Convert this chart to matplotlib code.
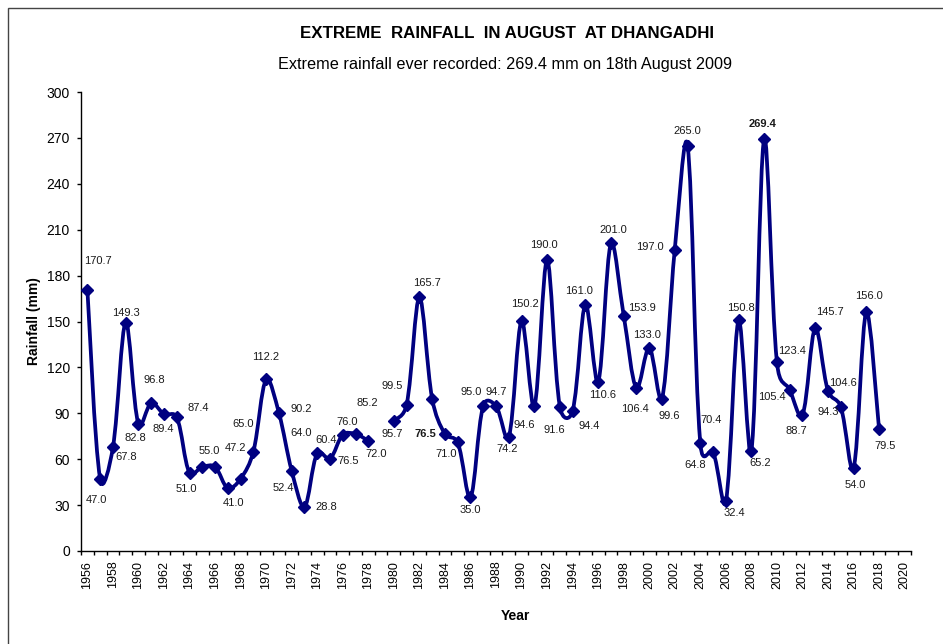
import numpy as np
import matplotlib
matplotlib.use("Agg")
import matplotlib.pyplot as plt
from matplotlib.path import Path
from matplotlib.patches import PathPatch, Rectangle

plt.rcParams['font.family'] = ['Liberation Sans', 'DejaVu Sans']

# data (1979 missing)
years_a = list(range(1956, 1979))
rain_a = [170.7, 47.0, 67.8, 149.3, 82.8, 96.8, 89.4, 87.4, 51.0, 55.0, 55.0, 41.0,
          47.2, 65.0, 112.2, 90.2, 52.4, 28.8, 64.0, 60.4, 76.0, 76.5, 72.0]
years_b = list(range(1980, 2019))
rain_b = [85.2, 95.7, 165.7, 99.5, 76.5, 71.0, 35.0, 95.0, 94.7, 74.2, 150.2, 94.6,
          190.0, 94.4, 91.6, 161.0, 110.6, 201.0, 153.9, 106.4, 133.0, 99.6, 197.0,
          265.0, 70.4, 64.8, 32.4, 150.8, 65.2, 269.4, 123.4, 105.4, 88.7, 145.7,
          104.6, 94.3, 54.0, 156.0, 79.5]
bold_years = [1984, 2009]
unlabeled_years = [1966]

# label offsets in pixels (right, down) from each point
offs_a = [(11, -29), (-3.5, 21), (13, 10), (0, -10), (-3.5, 14), (3, -23), (-1, 15),
          (21, -9), (-3, 16.5), (7, -16), (0, 0), (6, 15), (-5, -31), (-10, -28),
          (0, -22), (22, -4), (-8, 17), (22, 0), (-16, -20), (-4, -19), (4, -13),
          (-7, 27), (8, 13)]
offs_b = [(-27, -18), (-14, 29), (8, -14), (-40, -13), (-20, 0), (-12, 12), (0, 13),
          (-12, -14), (0, -14), (-2, 12), (3, -17), (-10, 19), (-3, -15), (29, 19),
          (-18, 19), (-6.5, -14), (4, 13.5), (2, -13.5), (18, -8), (-1.5, 21),
          (-2, -13), (7, 17), (-25, -3), (0, -15), (11, -23), (-18, 13), (9, 12),
          (2, -12.5), (9, 12), (-1.5, -15), (15, -11), (-18, 7), (-6, 16), (15, -16),
          (15, -8), (-13, 5), (2, 17), (3, -16), (6, 17)]

navy = '#000080'
# approx screen scale, used so the curve bends like Excel's smoothed line
px_per_year = 830 / 65
px_per_mm = 459 / 300


def smooth_path(xs, ys):
    pts = np.column_stack([xs, ys]).astype(float)
    scr = pts * [px_per_year, px_per_mm]
    n = len(pts)
    seg = np.hypot(*(np.diff(scr, axis=0).T))
    tang = []
    for i in range(n):
        a = pts[max(i - 1, 0)]
        b = pts[min(i + 1, n - 1)]
        tang.append(b - a)
    verts = [pts[0]]
    codes = [Path.MOVETO]
    for i in range(n - 1):
        d_prev = seg[i - 1] if i > 0 else seg[i]
        d_next = seg[i + 1] if i < n - 2 else seg[i]
        # halfway between plain catmull-rom and length-weighted tangents
        k1 = 0.5 * (seg[i] / (d_prev + seg[i]) / 3.0) + 0.5 / 6.0
        k2 = 0.5 * (seg[i] / (seg[i] + d_next) / 3.0) + 0.5 / 6.0
        c1 = pts[i] + tang[i] * k1
        c2 = pts[i + 1] - tang[i + 1] * k2
        verts += [c1, c2, pts[i + 1]]
        codes += [Path.CURVE4] * 3
    return Path(verts, codes)


fig = plt.figure(figsize=(9.43, 6.44), dpi=100)
ax = fig.add_axes([81 / 943, 1 - 551 / 644, 830 / 943, 459 / 644])

for xs, ys, offs in [(years_a, rain_a, offs_a), (years_b, rain_b, offs_b)]:
    ax.add_patch(PathPatch(smooth_path(xs, ys), fill=False, edgecolor=navy,
                           lw=2.7, capstyle='round', joinstyle='round', zorder=2))
    ax.plot(xs, ys, 'D', ms=6, color=navy, zorder=3)
    for x, y, (dx, dy) in zip(xs, ys, offs):
        if x in unlabeled_years:
            continue
        ax.annotate(f"{y:.1f}", (x, y), xytext=(dx, -dy), textcoords='offset pixels',
                    ha='center', va='center', fontsize=8, color='#1a1a1a',
                    fontweight='bold' if x in bold_years else 'normal')

ax.set_xlim(1955.5, 2020.5)
ax.set_ylim(0, 300)
ax.set_yticks(range(0, 301, 30))
ax.set_xticks(range(1956, 2021, 2))
ax.set_xticks(np.arange(1955.5, 2021, 1), minor=True)
ax.tick_params(axis='x', which='major', length=0, pad=7, labelrotation=90, labelsize=9)
ax.tick_params(axis='x', which='minor', length=3, width=1, direction='out')
ax.tick_params(axis='y', length=3, width=1, direction='out', pad=5, labelsize=10)
for s in ['top', 'right']:
    ax.spines[s].set_visible(False)
for s in ['left', 'bottom']:
    ax.spines[s].set_linewidth(1)

fig.text(507 / 943, 1 - 34 / 644, 'EXTREME  RAINFALL  IN AUGUST  AT DHANGADHI',
         ha='center', va='center', fontsize=12.2, fontweight='bold')
fig.text(505 / 943, 1 - 64 / 644,
         'Extreme rainfall ever recorded: 269.4 mm on 18th August 2009',
         ha='center', va='center', fontsize=11.7)
fig.text(34 / 943, 1 - 321 / 644, 'Rainfall (mm)', rotation=90,
         ha='center', va='center', fontsize=10, fontweight='bold')
fig.text(515 / 943, 1 - 616 / 644, 'Year', ha='center', va='center',
         fontsize=10, fontweight='bold')

# outer chart border
fig.add_artist(Rectangle((8 / 943, -0.1), 1.2, 1.1 - 8 / 644, transform=fig.transFigure,
                         fill=False, edgecolor='#444444', lw=1))

fig.savefig('out.png', dpi=100)
